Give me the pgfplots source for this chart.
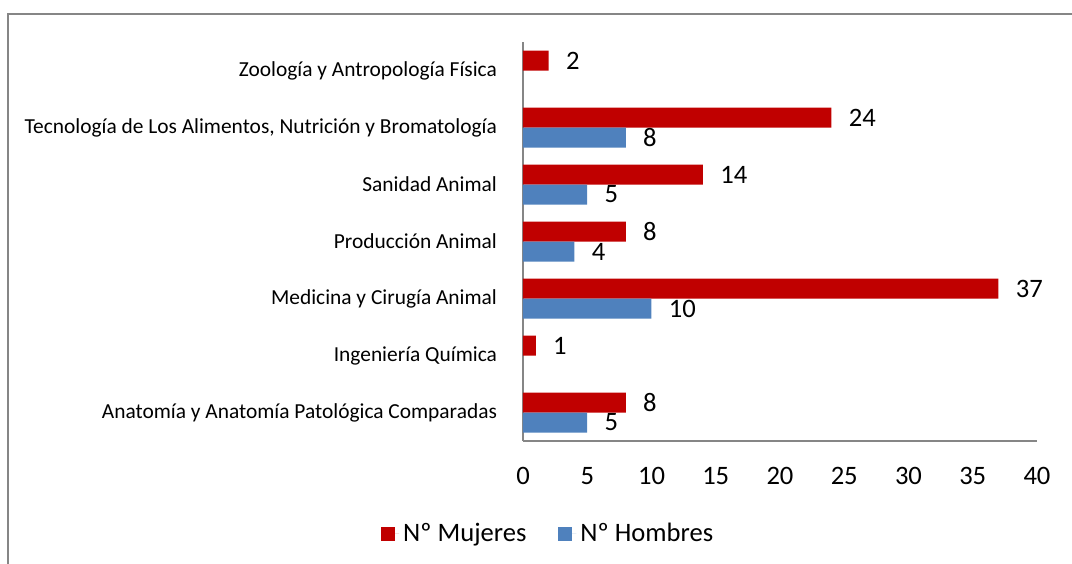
\documentclass[border=0pt]{standalone}
\usepackage{pgfplots}
\pgfplotsset{compat=1.18}
\usepackage{fontspec}
\setmainfont{Carlito}
\definecolor{mujeres}{HTML}{C00000}
\definecolor{hombres}{HTML}{4F81BD}
\definecolor{axisgray}{HTML}{868686}
\newcommand{\bigfont}{\fontsize{13.3}{15}\selectfont}
\newcommand{\catfont}{\fontsize{10.7}{12}\selectfont}

\begin{document}
\begin{tikzpicture}
% page = 1072 x 563 px at 0.5pt per px
\useasboundingbox (0,0) rectangle (536pt,-281.5pt);
\draw[axisgray, line width=1pt] (4pt,-300pt) |- (560pt,-7pt);

\begin{axis}[
    at={(261.5pt,-220.5pt)}, anchor=south west,
    scale only axis,
    width=257pt, height=199.5pt,
    xbar, bar width=10pt,
    xmin=0, xmax=40,
    ymin=-0.5, ymax=6.5,
    axis lines*=left,
    axis line style={draw=axisgray, line width=1pt},
    major tick length=0pt,
    xtick={0,5,...,40},
    ytick={0,...,6},
    yticklabels={
        Anatomía y Anatomía Patológica Comparadas,
        Ingeniería Química,
        Medicina y Cirugía Animal,
        Producción Animal,
        Sanidad Animal,
        {Tecnología de Los Alimentos, Nutrición y Bromatología},
        Zoología y Antropología Física},
    /pgf/number format/assume math mode=true,
    xticklabel style={font=\bigfont, anchor=north, yshift=-9.5pt},
    yticklabel style={font=\catfont, anchor=east, xshift=-9.5pt},
    nodes near coords,
    nodes near coords style={font=\bigfont, anchor=west, inner sep=0pt, xshift=8.5pt},
    legend columns=2,
    legend style={at={(axis description cs:0.051,-0.233)}, anchor=center,
        draw=none, font=\bigfont,
        /tikz/every even column/.append style={column sep=14pt}},
    legend image code/.code={
        \fill[#1] (0pt,-3.5pt) rectangle (7pt,3.5pt);
        \path (0pt,0pt) -- (9pt,0pt);},
]
\addplot[fill=mujeres, draw=none, bar shift=5pt] coordinates {
    (8,0) (1,1) (37,2) (8,3) (14,4) (24,5) (2,6)
};
\addlegendentry{Nº Mujeres}
\addplot[fill=hombres, draw=none, bar shift=-5pt] coordinates {
    (5,0) (10,2) (4,3) (5,4) (8,5)
};
\addlegendentry{Nº Hombres}
\end{axis}
\end{tikzpicture}
\end{document}
